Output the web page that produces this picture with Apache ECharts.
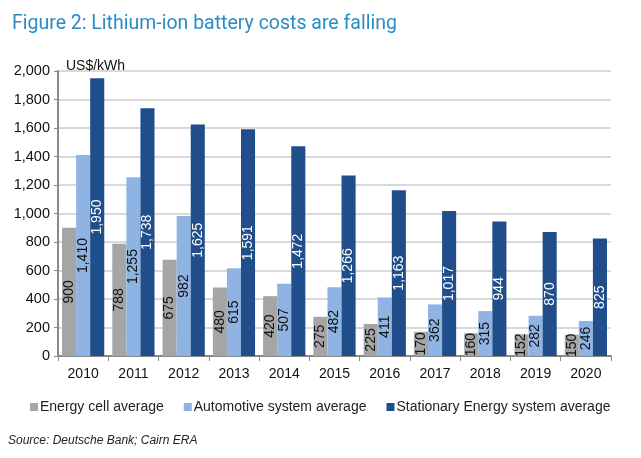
<!DOCTYPE html>
<html><head><meta charset="utf-8">
<script src="https://cdn.jsdelivr.net/npm/echarts@6/dist/echarts.min.js"></script>
<style>html,body{margin:0;padding:0;background:#fff}#c{width:641px;height:458px}</style>
</head><body><div id="c"></div>
<script>
const categories = ['2010','2011','2012','2013','2014','2015','2016','2017','2018','2019','2020'];
const energyCell = [900,788,675,480,420,275,225,170,160,152,150];
const automotive = [1410,1255,982,615,507,482,411,362,315,282,246];
const stationary = [1950,1738,1625,1591,1472,1266,1163,1017,944,870,825];
const seriesNames = ['Energy cell average','Automotive system average','Stationary Energy system average'];
const colors = ['#a5a5a5','#8fb4e3','#1f4e8a'];
const labelColors = ['#111','#111','#fff'];
const font = 'Liberation Sans, Arial, sans-serif';
const chart = echarts.init(document.getElementById('c'));
const fmt = v => v.toLocaleString('en-US');
function mk(i, data){
  return {
    name: seriesNames[i], type:'bar', data, barGap:'0%', barCategoryGap:'16%',
    itemStyle:{color:colors[i]},
    label:{show:true, position:'inside', rotate:90, color:labelColors[i], fontSize:14, fontFamily:font,
      textBorderWidth:0, textBorderColor:colors[i], textShadowBlur:0, formatter:p=>fmt(p.value)}
  };
}
chart.setOption({
  animation:false,
  title:[{text:'Figure 2: Lithium-ion battery costs are falling', left:7, top:9,
    textStyle:{color:'#2b8cc4', fontSize:19.5, fontWeight:'normal', fontFamily:'Roboto, sans-serif'}},
    {text:'Source: Deutsche Bank; Cairn ERA', left:3, top:430,
    textStyle:{color:'#222', fontSize:12, fontStyle:'italic', fontWeight:'normal', fontFamily:font}}],
  legend:{left:25, top:395, itemWidth:8, itemHeight:8, itemGap:20, icon:'rect',
    textStyle:{fontSize:14, color:'#222', fontFamily:font, padding:[0,0,0,-3]}},
  grid:{left:58, right:30, top:71, bottom:102},
  xAxis:{type:'category', data:categories,
    axisLine:{lineStyle:{color:'#888', width:2}},
    axisTick:{show:true, length:5, lineStyle:{color:'#888'}},
    axisLabel:{fontSize:14, color:'#111', fontFamily:font, margin:11}},
  yAxis:{type:'value', min:0, max:2000, interval:200,
    name:'US$/kWh', nameLocation:'end', nameGap:-2,
    nameTextStyle:{align:'left', verticalAlign:'bottom', fontSize:14, color:'#111', fontFamily:font, padding:[0,0,0,8]},
    axisLine:{show:true, lineStyle:{color:'#888', width:2}},
    axisTick:{show:true, length:4, inside:false, lineStyle:{color:'#888'}},
    splitLine:{lineStyle:{color:'#d9d9d9', width:2}},
    axisLabel:{fontSize:14.5, color:'#111', fontFamily:font, margin:8, formatter:v=>fmt(v)}},
  series:[mk(0,energyCell), mk(1,automotive), mk(2,stationary)]
});
</script></body></html>
